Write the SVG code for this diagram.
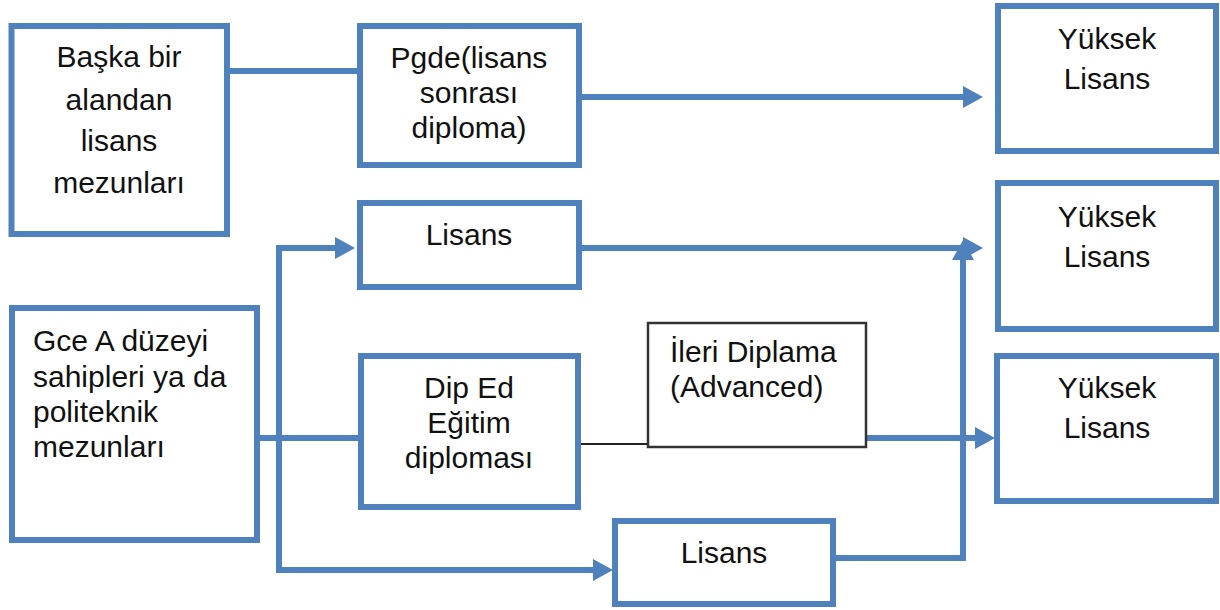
<svg xmlns="http://www.w3.org/2000/svg" width="1220" height="610" viewBox="0 0 1220 610">
<defs>
<style>
.box{fill:#fff;stroke:#4F81BD;stroke-width:6}
.thin{fill:#fff;stroke:#333;stroke-width:2.5}
.c{fill:none;stroke:#4F81BD;stroke-width:6}
.k{fill:none;stroke:#222;stroke-width:2}
text{font-family:"Liberation Sans",Arial,sans-serif;font-size:30px;fill:#111}
.m{text-anchor:middle}
</style>
<marker id="ah" markerUnits="userSpaceOnUse" viewBox="0 0 20 22" markerWidth="20" markerHeight="22" refX="0" refY="11" orient="auto">
<path d="M0,0 L20,11 L0,22 z" fill="#4F81BD"/>
</marker>
</defs>
<rect width="1220" height="610" fill="#fff"/>
<g id="connectors">
<path class="c" d="M227,71 H360"/>
<path class="c" d="M579,97 H963" marker-end="url(#ah)"/>
<path class="c" d="M579,248 H963" marker-end="url(#ah)"/>
<path class="c" d="M257,438 H361"/>
<path class="c" d="M279,438 V248 H335" marker-end="url(#ah)"/>
<path class="c" d="M279,438 V570 H593" marker-end="url(#ah)"/>
<path class="k" d="M578,444 H648"/>
<path class="c" d="M866,438 H975" marker-end="url(#ah)"/>
<path class="c" d="M833,558 H963 V260" marker-end="url(#ah)"/>
</g>
<g id="n-baska">
<rect class="box" x="11.5" y="26" width="215.5" height="208"/>
<text class="m" x="119" y="67">Başka bir</text>
<text class="m" x="119" y="110">alandan</text>
<text class="m" x="119" y="151">lisans</text>
<text class="m" x="119" y="193">mezunları</text>
</g>
<g id="n-pgde">
<rect class="box" x="360" y="26" width="219" height="139"/>
<text class="m" x="469" y="68">Pgde(lisans</text>
<text class="m" x="469" y="103">sonrası</text>
<text class="m" x="469" y="138">diploma)</text>
</g>
<g id="n-y1">
<rect class="box" x="998" y="6" width="218" height="145"/>
<text class="m" x="1107" y="49">Yüksek</text>
<text class="m" x="1107" y="89">Lisans</text>
</g>
<g id="n-lisans1">
<rect class="box" x="360" y="203" width="219" height="84"/>
<text class="m" x="469" y="245">Lisans</text>
</g>
<g id="n-y2">
<rect class="box" x="998" y="183" width="218" height="146"/>
<text class="m" x="1107" y="227">Yüksek</text>
<text class="m" x="1107" y="267">Lisans</text>
</g>
<g id="n-gce">
<rect class="box" x="12" y="308" width="245" height="232"/>
<text x="33" y="351">Gce A düzeyi</text>
<text x="33" y="387">sahipleri ya da</text>
<text x="33" y="422">politeknik</text>
<text x="33" y="457">mezunları</text>
</g>
<g id="n-diped">
<rect class="box" x="361" y="356" width="217" height="151"/>
<text class="m" x="469" y="398">Dip Ed</text>
<text class="m" x="469" y="433">Eğitim</text>
<text class="m" x="469" y="468">diploması</text>
</g>
<g id="n-ileri">
<rect class="thin" x="648" y="323" width="218" height="124"/>
<text x="670" y="362">İleri Diplama</text>
<text x="670" y="397">(Advanced)</text>
</g>
<g id="n-y3">
<rect class="box" x="997" y="356" width="219" height="145"/>
<text class="m" x="1107" y="398">Yüksek</text>
<text class="m" x="1107" y="438">Lisans</text>
</g>
<g id="n-lisans2">
<rect class="box" x="615" y="521" width="218" height="83"/>
<text class="m" x="724" y="563">Lisans</text>
</g>
</svg>
